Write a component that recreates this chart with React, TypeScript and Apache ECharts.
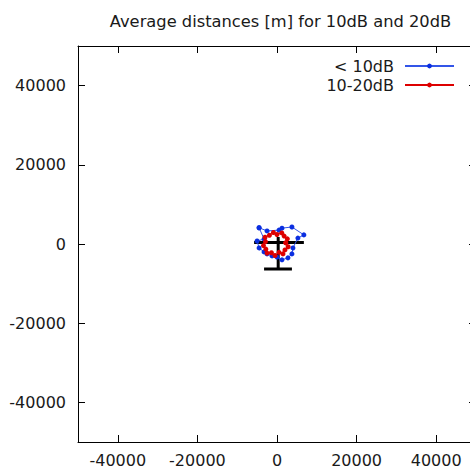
import React, { useEffect, useRef } from "react";
import * as echarts from "echarts";

const titleText = "Average distances [m] for 10dB and 20dB";
const tickValues = [-40000, -20000, 0, 20000, 40000];

const blueName = "< 10dB";
const blueData: [number, number][] = [
  [-4500, 4100], [-2500, 3300], [500, 3500], [1250, 4000], [3750, 4300],
  [6750, 2300], [5250, 1500], [4000, -1000], [3750, -2500], [2750, -3500],
  [1250, -4000], [0, -3300], [-1250, -3000], [-2500, -2500], [-3250, -2000],
  [-4500, -1000], [-5000, 750], [-3250, 1250], [-4500, 4100],
];

const redName = "10-20dB";
const redData: [number, number][] = [
  [2200, 300], [2600, 1300], [1800, 2000], [1200, 2800], [0, 2400],
  [-900, 2900], [-1900, 2200], [-3000, 1700], [-2900, 600], [-3400, -400],
  [-2800, -1300], [-2500, -2300], [-1400, -2200], [-500, -2900], [500, -2100],
  [1500, -2500], [2000, -1500], [2800, -700], [2200, 300],
];

const blackSegments: [number, number][][] = [
  [[-5750, 400], [6750, 400]],
  [[300, 1750], [300, -6300]],
  [[-3250, -6300], [3750, -6300]],
];

const FONT = "DejaVu Sans";
const TXT = "#1a1a1a";
const FS = 16;

export default function App() {
  const ref = useRef<HTMLDivElement>(null);
  useEffect(() => {
    if (!ref.current) return;
    const chart = echarts.init(ref.current, undefined, { renderer: "svg" });
    const axisCommon = {
      type: "value" as const,
      min: -50000,
      max: 50000,
      splitLine: { show: false },
      axisLine: { onZero: false, lineStyle: { color: "#000", width: 1 } },
      axisTick: { inside: true, length: 7, customValues: tickValues, lineStyle: { color: "#000" } },
    };
    const labelCommon = {
      customValues: tickValues,
      fontFamily: FONT,
      fontSize: FS,
      color: TXT,
      formatter: (v: number) => String(v),
    };
    const blackSeries = blackSegments.map((seg) => ({
      type: "line" as const,
      data: seg,
      symbol: "none",
      lineStyle: { color: "#000", width: 3 },
      silent: true,
      z: 1,
    }));
    const legendCommon = {
      right: 20,
      align: "right" as const,
      itemWidth: 49,
      itemHeight: 6,
      textStyle: { fontFamily: FONT, fontSize: FS, color: TXT, padding: [0, 6, 0, 0] },
    };
    chart.setOption({
      animation: false,
      backgroundColor: "#fff",
      title: {
        text: titleText,
        left: 275.5,
        textAlign: "center",
        top: 8,
        textStyle: { fontFamily: FONT, fontSize: 16.3, fontWeight: "normal", color: TXT },
      },
      legend: [
        { ...legendCommon, data: [blueName], top: 53 },
        { ...legendCommon, data: [redName], top: 72 },
      ],
      grid: { left: 78, top: 46, width: 398, height: 397, containLabel: false },
      xAxis: [
        { ...axisCommon, position: "bottom", axisLabel: { ...labelCommon, margin: 10 } },
        { ...axisCommon, position: "top", axisLabel: { show: false } },
      ],
      yAxis: [
        { ...axisCommon, position: "left", axisLabel: { ...labelCommon, margin: 12 } },
        { ...axisCommon, position: "right", axisLabel: { show: false } },
      ],
      series: [
        ...blackSeries,
        {
          name: blueName,
          type: "line",
          data: blueData,
          symbol: "circle",
          symbolSize: 5,
          itemStyle: { color: "#0a2ee0" },
          lineStyle: { color: "#3355e8", width: 1 },
          z: 2,
        },
        {
          name: redName,
          type: "line",
          data: redData,
          symbol: "circle",
          symbolSize: 5,
          itemStyle: { color: "#dd0000" },
          lineStyle: { color: "#dd0000", width: 1 },
          z: 3,
        },
      ],
    });
    return () => chart.dispose();
  }, []);
  return (
    <div style={{ position: "absolute", left: 0, top: 0, width: 470, height: 468, overflow: "hidden" }}>
      <div ref={ref} style={{ width: 480, height: 468 }} />
    </div>
  );
}
